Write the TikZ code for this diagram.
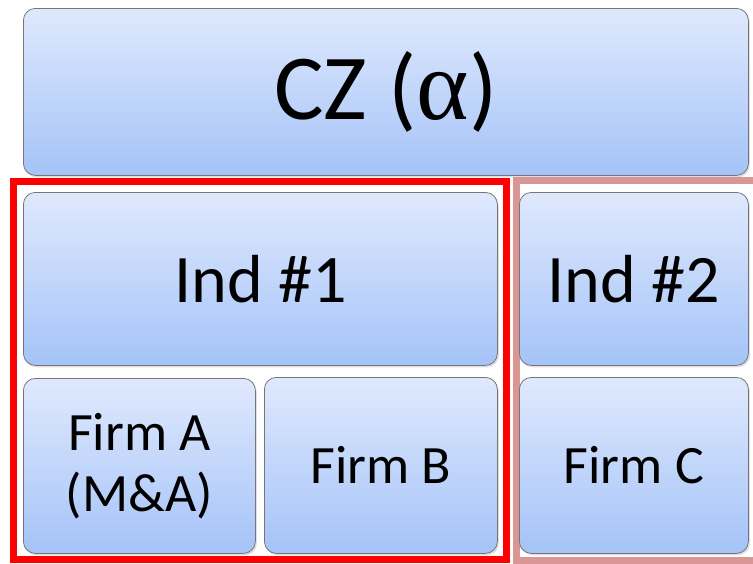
\documentclass[tikz,border=0pt]{standalone}
\usepackage{fontspec}
\setmainfont{Carlito}
\newfontfamily\alphafont{Liberation Serif}
\usetikzlibrary{shadows}
\definecolor{boxtop}{RGB}{223,233,253}
\definecolor{boxbot}{RGB}{165,195,248}
\definecolor{boxline}{RGB}{118,118,118}
\definecolor{redframe}{RGB}{255,0,0}
\definecolor{pinkframe}{RGB}{217,150,148}
\begin{document}
\begin{tikzpicture}[x=1pt,y=-1pt,
  box/.style={rectangle, rounded corners=12pt, draw=boxline, line width=0.8pt,
    top color=boxtop, bottom color=boxbot, anchor=north west, inner sep=0pt,
    align=center, text=black,
    drop shadow={opacity=0.25, shadow xshift=1.5pt, shadow yshift=-2pt}},
  big/.style={font=\fontsize{93}{100}\selectfont},
  mid/.style={font=\fontsize{68}{76}\selectfont},
  small/.style={font=\fontsize{54}{61}\selectfont},
  frame/.style={line width=7pt}]
\clip (0,0) rectangle (753,563);
\fill[white] (0,0) rectangle (753,563);
% frames
\coordinate (pinkA) at (800,180);
\coordinate (pinkB) at (800,560);
\draw[frame, draw=pinkframe, line join=miter] (pinkA) -- (516,180) -- (516,560) -- (pinkB);
\draw[frame, draw=redframe] (13,181) rectangle (506,559.5);
% boxes
\node[box, big, minimum width=725pt, minimum height=167pt] (cz) at (23,8) {CZ ({\alphafont\fontsize{100}{100}\selectfont α})};
\node[box, mid, minimum width=474pt, minimum height=173pt] (ind1) at (23,192) {Ind \#1};
\node[box, mid, minimum width=229pt, minimum height=173pt] (ind2) at (519,192) {Ind \#2};
\node[box, small, minimum width=232pt, minimum height=175pt] (firma) at (23,378) {Firm A\\(M\&A)};
\node[box, small, minimum width=233pt, minimum height=176pt] (firmb) at (264,377) {Firm B};
\node[box, small, minimum width=229pt, minimum height=176pt] (firmc) at (519,377) {Firm C};
\end{tikzpicture}
\end{document}
